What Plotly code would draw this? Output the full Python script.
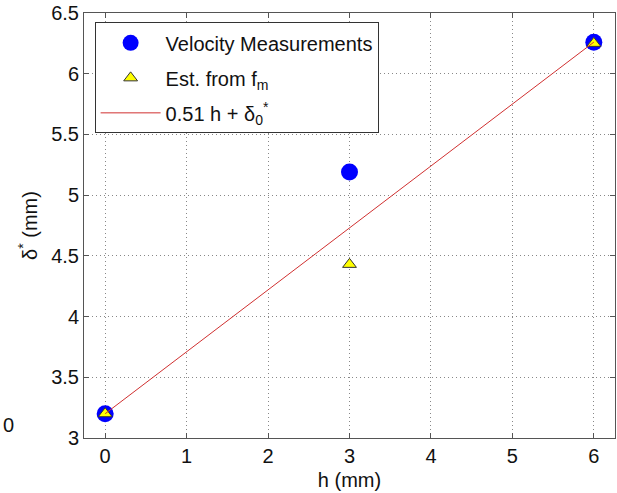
import plotly.graph_objects as go

h_vel = [0, 3, 6]
delta_vel = [3.20, 5.19, 6.26]
h_est = [0, 3, 6]
delta_est = [3.20, 4.43, 6.25]
slope = 0.51
delta0 = 3.20
h_fit = [0, 6]
delta_fit = [delta0 + slope * h for h in h_fit]

x_ticks = [0, 1, 2, 3, 4, 5, 6]
y_ticks = [3, 3.5, 4, 4.5, 5, 5.5, 6, 6.5]
y_tick_text = ["3", "3.5", "4", "4.5", "5", "5.5", "6", "6.5"]

font = "Liberation Sans, Arial, Helvetica, sans-serif"
fs = 20

fig = go.Figure()
fig.add_trace(go.Scatter(
    x=h_vel, y=delta_vel, mode="markers", name="Velocity Measurements", legendgroup="a",
    marker=dict(symbol="circle", size=17, color="#0000ff", line=dict(width=0))))
fig.add_trace(go.Scatter(
    x=h_est, y=delta_est, mode="markers", name="Est. from f<sub>m</sub>", legendgroup="b",
    marker=dict(symbol="triangle-up", size=12, color="#ffff00", line=dict(width=1, color="#333333"))))
fig.add_trace(go.Scatter(
    x=h_fit, y=delta_fit, mode="lines", name="0.51 h + δ<sub>0</sub><sup>*</sup>", legendgroup="c",
    line=dict(color="#d03030", width=1)))

axis_common = dict(
    showline=True, linecolor="#555555", linewidth=1, mirror="ticks",
    ticks="inside", ticklen=5, tickcolor="#555555",
    showgrid=True, gridcolor="#888888", griddash="1px,3px", gridwidth=1,
    zeroline=False, tickfont=dict(size=fs, color="#111111", family=font))

fig.update_xaxes(range=[-0.26, 6.26], tickvals=x_ticks,
                 title=dict(text="h (mm)", font=dict(size=fs, family=font, color="#111111"), standoff=6),
                 **axis_common)
fig.update_yaxes(range=[3, 6.5], tickvals=y_ticks, ticktext=y_tick_text,
                 title=dict(text="δ<sup>*</sup> (mm)", font=dict(size=fs, family=font, color="#111111"), standoff=8),
                 **axis_common)

fig.add_annotation(text="0", xref="paper", yref="paper", x=-0.156, y=0.0,
                   xanchor="left", yanchor="bottom", showarrow=False,
                   font=dict(size=fs, family=font, color="#111111"))

fig.update_layout(
    width=617, height=493,
    margin=dict(l=84, r=2, t=13, b=55),
    paper_bgcolor="white", plot_bgcolor="white",
    font=dict(family=font, size=fs, color="#111111"),
    showlegend=True,
    legend=dict(x=0.02, y=0.978, xanchor="left", yanchor="top",
                bgcolor="white", bordercolor="#333333", borderwidth=1,
                font=dict(size=fs, family=font), itemwidth=60,
                traceorder="grouped", tracegroupgap=6),
)

fig.write_html("out.html")
